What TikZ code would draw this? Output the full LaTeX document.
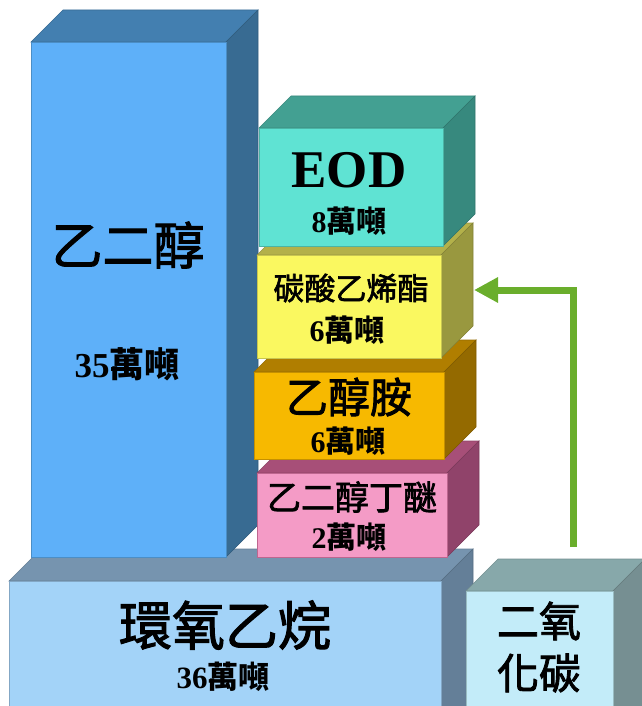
\documentclass[tikz,border=0pt]{standalone}
\usepackage{fontspec}
\setmainfont{Liberation Serif}
\newfontfamily\cjk[FakeBold=2]{Noto Sans CJK TC}
\newfontfamily\cjkb{Noto Sans CJK TC Bold}
\usetikzlibrary{arrows.meta,fit}
\definecolor{blueF}{HTML}{5EB0F9}\definecolor{blueT}{HTML}{437FB0}\definecolor{blueS}{HTML}{386B92}
\definecolor{eodF}{HTML}{5FE3D3}\definecolor{eodT}{HTML}{43A092}\definecolor{eodS}{HTML}{37897E}
\definecolor{yelF}{HTML}{FAF860}\definecolor{yelT}{HTML}{B3B14A}\definecolor{yelS}{HTML}{99983F}
\definecolor{oraF}{HTML}{F7B900}\definecolor{oraT}{HTML}{B07E00}\definecolor{oraS}{HTML}{946A00}
\definecolor{pinkF}{HTML}{F49BC6}\definecolor{pinkT}{HTML}{A74F78}\definecolor{pinkS}{HTML}{90436A}
\definecolor{bigF}{HTML}{A3D3F8}\definecolor{bigT}{HTML}{7694AF}\definecolor{bigS}{HTML}{647F98}
\definecolor{coF}{HTML}{C3ECF9}\definecolor{coT}{HTML}{87A8AA}\definecolor{coS}{HTML}{768F92}
\definecolor{arrowgreen}{HTML}{6AAE2C}
\tikzset{
  face/.style={line width=0.6pt, line join=miter},
  lbl/.style={inner sep=0pt, align=center, text=black},
}
% name, x1, y1, x2, y2, front colour, top colour, side colour
\newcommand\cubebox[8]{%
  \coordinate (#1a) at (#2,#3);
  \coordinate (#1b) at (#4,#5);
  \filldraw[face, fill=#7, draw=#7!85!black] (#2,#3) -- ({#2+32},{#3-32}) -- ({#4+32},{#3-32}) -- (#4,#3) -- cycle;
  \filldraw[face, fill=#8, draw=#8!85!black] (#4,#3) -- ({#4+32},{#3-32}) -- ({#4+32},{#5-32}) -- (#4,#5) -- cycle;
  \filldraw[face, fill=#6, draw=#7!70!#6] (#1a) rectangle (#1b);
  \node[fit=(#1a)(#1b), inner sep=0pt] (#1) {};
}
\newcommand\amt[2]{{\fontsize{#1}{#1}\selectfont\bfseries #2\cjkb 萬噸}}
\begin{document}
\begin{tikzpicture}[x=1pt,y=-1pt]
\useasboundingbox (0,0) rectangle (641,706);
% boxes
\cubebox{eo}{9}{581}{441}{740}{bigF}{bigT}{bigS}
\cubebox{co}{466}{591}{613}{740}{coF}{coT}{coS}
\cubebox{eg}{31}{42}{226}{557}{blueF}{blueT}{blueS}
\cubebox{bu}{257}{473}{447}{557}{pinkF}{pinkT}{pinkS}
\cubebox{ea}{254}{372}{444}{459}{oraF}{oraT}{oraS}
\cubebox{ec}{257}{255}{441}{358}{yelF}{yelT}{yelS}
\cubebox{eod}{259}{128}{443}{246}{eodF}{eodT}{eodS}
% labels
\node[lbl] (egt) at (128,245) {\fontsize{51}{51}\selectfont\cjk 乙二醇};
\node[lbl] (egn) at (127,364) {\amt{35}{35}};
\node[lbl] (eodt) at (349,170) {\fontsize{53}{53}\selectfont\bfseries EOD};
\node[lbl] (eodn) at (349,221) {\amt{30}{8}};
\node[lbl] (ect) at (351,288) {\fontsize{31}{31}\selectfont\cjk 碳酸乙烯酯};
\node[lbl] (ecn) at (347,330) {\amt{30}{6}};
\node[lbl] (eat) at (349,397) {\fontsize{42}{42}\selectfont\cjk 乙醇胺};
\node[lbl] (ean) at (348,441) {\amt{30}{6}};
\node[lbl] (but) at (352,497) {\fontsize{34}{34}\selectfont\cjk 乙二醇丁醚};
\node[lbl] (bun) at (349,537) {\amt{30}{2}};
\node[lbl] (eot) at (225,625) {\fontsize{53}{53}\selectfont\cjk 環氧乙烷};
\node[lbl] (eon) at (223,677) {\amt{31}{36}};
\node[lbl, font={\fontsize{42}{52}\selectfont\cjk}] (cot) at (539,647) {二氧\\化碳};
% arrow
\coordinate (arrS) at (573,547);
\coordinate (arrE) at (474,290);
\draw[arrowgreen, line width=7pt, -{Triangle[length=24pt,width=24pt]}] (arrS) |- (arrE);
\end{tikzpicture}
\end{document}
